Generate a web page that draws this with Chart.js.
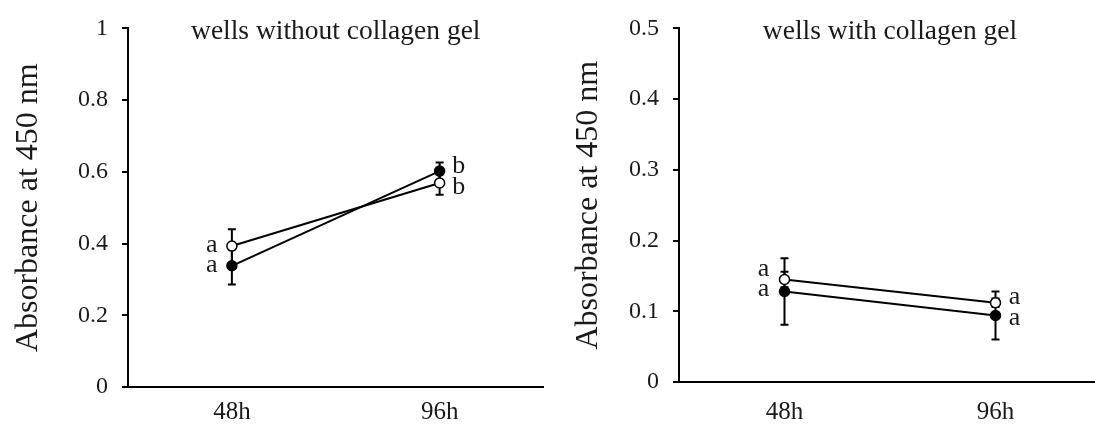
<!DOCTYPE html>
<html>
<head>
<meta charset="utf-8">
<script src="https://cdn.jsdelivr.net/npm/chart.js@4.4.1/dist/chart.umd.min.js"></script>
<style>
  html, body { margin: 0; padding: 0; background: #fff; overflow: hidden; width: 1095px; height: 427px; }
  .box { position: absolute; top: 0; height: 427px; }
  #leftBox { left: 0; width: 550px; }
  #rightBox { left: 548px; width: 560px; }
</style>
</head>
<body>
<div class="box" id="leftBox"><canvas id="leftChart"></canvas></div>
<div class="box" id="rightBox"><canvas id="rightChart"></canvas></div>
<script>
const times = ['48h', '96h'];

// wells without collagen gel
const leftOpen = [0.393, 0.569];
const leftOpenErr = [0.047, 0.033];
const leftFilled = [0.338, 0.602];
const leftFilledErr = [0.052, 0.024];
const leftOpenLetters = ['a', 'b'];
const leftFilledLetters = ['a', 'b'];
const leftTicks = { max: 1, step: 0.2 };

// wells with collagen gel
const rightOpen = [0.145, 0.112];
const rightOpenErr = [0.011, 0.006];
const rightFilled = [0.128, 0.094];
const rightFilledErr = [0.047, 0.034];
const rightOpenLetters = ['a', 'a'];
const rightFilledLetters = ['a', 'a'];
const rightTicks = { max: 0.5, step: 0.1 };

const serif = '"Liberation Serif", "Times New Roman", serif';
Chart.defaults.font.family = serif;
Chart.defaults.color = '#1a1a1a';

// error bars go under the markers
const errorBars = {
  id: 'errorBars',
  beforeDatasetsDraw(chart) {
    const { ctx, scales: { x, y } } = chart;
    ctx.save();
    ctx.strokeStyle = '#000';
    ctx.lineWidth = 2;
    chart.data.datasets.forEach((ds) => {
      ds.data.forEach((v, i) => {
        const px = x.getPixelForValue(i);
        const top = y.getPixelForValue(v + ds.errors[i]);
        const bot = y.getPixelForValue(v - ds.errors[i]);
        ctx.beginPath();
        ctx.moveTo(px, top);
        ctx.lineTo(px, bot);
        ctx.moveTo(px - 4, top);
        ctx.lineTo(px + 4, top);
        ctx.moveTo(px - 4, bot);
        ctx.lineTo(px + 4, bot);
        ctx.stroke();
      });
    });
    ctx.restore();
  },
};

// panel title inside the plot + significance letters
const annotations = {
  id: 'annotations',
  afterDraw(chart, args, opts) {
    const { ctx, chartArea, scales: { x, y } } = chart;
    ctx.save();
    ctx.fillStyle = '#1a1a1a';
    ctx.textBaseline = 'middle';
    ctx.textAlign = 'center';
    ctx.font = `27.5px ${serif}`;
    ctx.fillText(opts.title, (chartArea.left + chartArea.right) / 2, chartArea.top + 3);
    ctx.font = `26px ${serif}`;
    chart.data.datasets.forEach((ds, d) => {
      ds.letters.forEach((txt, i) => {
        const off = opts.offsets[d][i];
        ctx.fillText(txt, x.getPixelForValue(i) + off[0], y.getPixelForValue(ds.data[i]) + off[1]);
      });
    });
    ctx.restore();
  },
};

function makeChart(id, cfg) {
  const ctx = document.getElementById(id).getContext('2d');
  return new Chart(ctx, {
    type: 'line',
    data: {
      labels: times,
      datasets: [{
        label: 'filled',
        data: cfg.filled,
        errors: cfg.filledErr,
        letters: cfg.filledLetters,
        borderColor: '#000',
        borderWidth: 2,
        pointBackgroundColor: '#000',
        pointBorderColor: '#000',
        pointBorderWidth: 1.5,
        pointRadius: 5,
        tension: 0,
      }, {
        label: 'open',
        data: cfg.open,
        errors: cfg.openErr,
        letters: cfg.openLetters,
        borderColor: '#000',
        borderWidth: 2,
        pointBackgroundColor: '#fff',
        pointBorderColor: '#000',
        pointBorderWidth: 1.5,
        pointRadius: 5,
        tension: 0,
      }],
    },
    options: {
      responsive: true,
      maintainAspectRatio: false,
      animation: false,
      layout: { padding: cfg.padding },
      plugins: {
        legend: { display: false },
        tooltip: { enabled: false },
        annotations: { title: cfg.title, offsets: cfg.offsets },
      },
      scales: {
        x: {
          offset: true,
          grid: { display: false, drawTicks: false },
          border: { color: '#000', width: 2 },
          ticks: { font: { size: 25 }, color: '#1a1a1a', padding: cfg.xPad },
          afterFit: (scale) => { scale.height = cfg.xHeight; },
        },
        y: {
          min: 0,
          max: cfg.ticks.max,
          grid: { drawOnChartArea: false, drawTicks: true, tickLength: 6, color: '#000', lineWidth: 2 },
          border: { color: '#000', width: 2 },
          ticks: {
            stepSize: cfg.ticks.step,
            font: { size: 24 },
            color: '#1a1a1a',
            padding: 14,
            callback: (v) => String(+v.toFixed(2)),
          },
          title: {
            display: true,
            text: 'Absorbance at 450 nm',
            font: { size: 32 },
            color: '#1a1a1a',
            padding: { top: cfg.titlePad, bottom: 0 },
          },
          afterFit: (scale) => { scale.width = cfg.yWidth; },
        },
      },
    },
    plugins: [errorBars, annotations],
  });
}

makeChart('leftChart', {
  title: 'wells without collagen gel',
  open: leftOpen,
  openErr: leftOpenErr,
  filled: leftFilled,
  filledErr: leftFilledErr,
  openLetters: leftOpenLetters,
  filledLetters: leftFilledLetters,
  ticks: leftTicks,
  padding: { top: 23, right: 3, left: 0, bottom: 0 },
  yWidth: 128,
  xHeight: 40,
  xPad: 10,
  titlePad: 9,
  offsets: [[[-20, -1], [19, -5]], [[-20, -1], [19, 4]]],
});

makeChart('rightChart', {
  title: 'wells with collagen gel',
  open: rightOpen,
  openErr: rightOpenErr,
  filled: rightFilled,
  filledErr: rightFilledErr,
  openLetters: rightOpenLetters,
  filledLetters: rightFilledLetters,
  ticks: rightTicks,
  padding: { top: 22, right: 7, left: 0, bottom: 0 },
  yWidth: 131,
  xHeight: 45,
  xPad: 15,
  titlePad: 21,
  offsets: [[[-21, -2], [19, 3]], [[-21, -10], [19, -6]]],
});
</script>
</body>
</html>
